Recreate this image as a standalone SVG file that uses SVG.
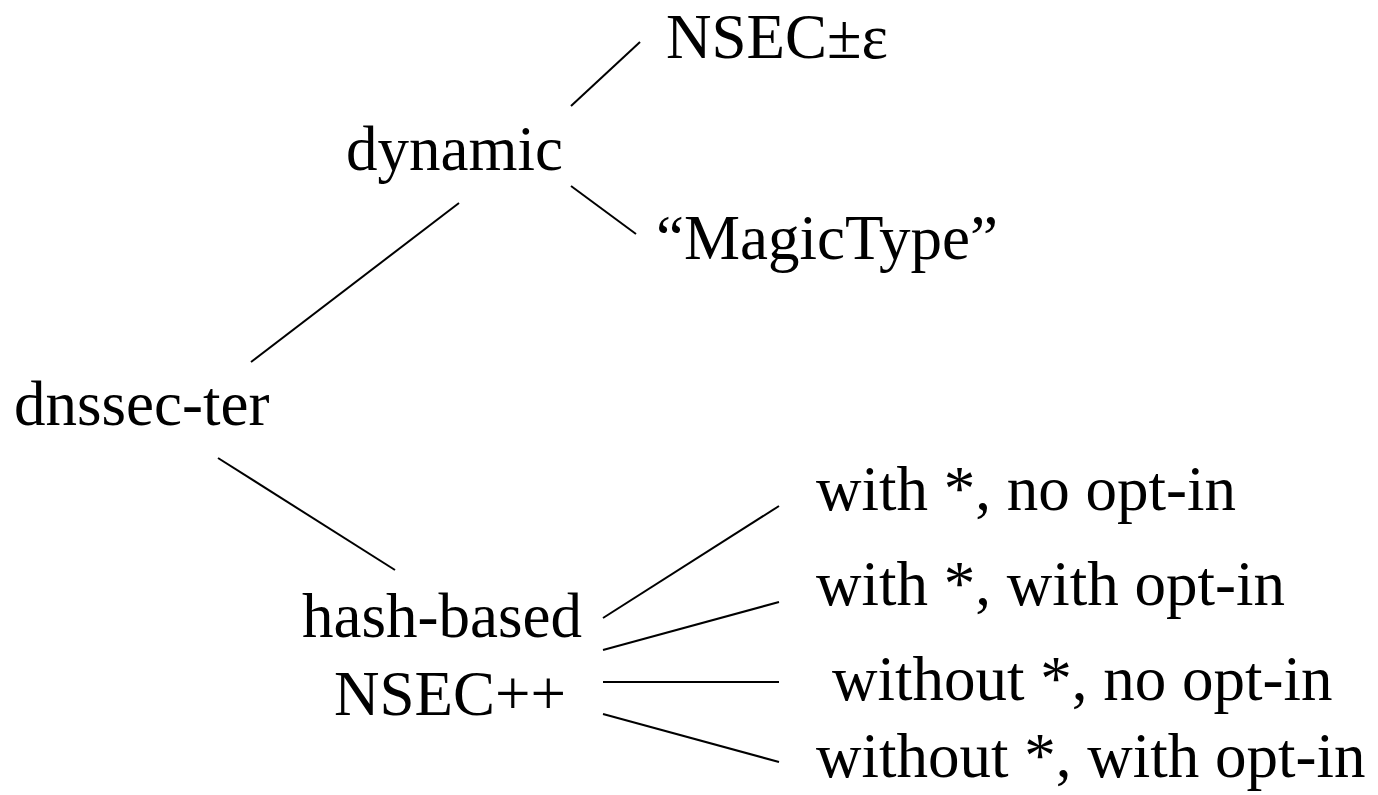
<svg xmlns="http://www.w3.org/2000/svg" width="1378" height="795" viewBox="0 0 1378 795">
<style>
text { font-family: "Liberation Serif", "Times New Roman", serif; font-size: 63px; fill: #000; }
.edge { stroke: #000; stroke-width: 2; fill: none; stroke-linecap: butt; }
</style>
<rect width="1378" height="795" fill="#fff"/>
<g id="connectors">
<line class="edge" x1="571" y1="106" x2="640" y2="42"/>
<line class="edge" x1="571" y1="186" x2="636" y2="234"/>
<line class="edge" x1="251" y1="362" x2="459" y2="203"/>
<line class="edge" x1="218" y1="458" x2="395" y2="570"/>
<line class="edge" x1="603" y1="618" x2="779" y2="506"/>
<line class="edge" x1="603" y1="650" x2="779" y2="602"/>
<line class="edge" x1="603" y1="682" x2="779" y2="682"/>
<line class="edge" x1="603" y1="714" x2="779" y2="762"/>
</g>
<g id="node-nsec-eps"><text x="666" y="58">NSEC±ε</text></g>
<g id="node-dynamic"><text x="346" y="170">dynamic</text></g>
<g id="node-magictype"><text x="656" y="259">“MagicType”</text></g>
<g id="node-dnssec-ter"><text x="14" y="425">dnssec-ter</text></g>
<g id="node-hash-based"><text x="302" y="637">hash-based</text><text x="334" y="715">NSEC++</text></g>
<g id="node-leaf1"><text x="816" y="510">with *, no opt-in</text></g>
<g id="node-leaf2"><text x="816" y="605">with *, with opt-in</text></g>
<g id="node-leaf3"><text x="832" y="700">without *, no opt-in</text></g>
<g id="node-leaf4"><text x="816" y="777">without *, with opt-in</text></g>
</svg>
